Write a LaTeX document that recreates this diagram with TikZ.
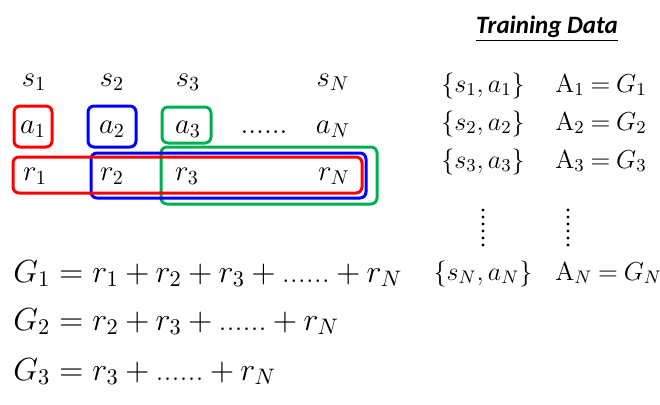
\RequirePackage{fix-cm}
\documentclass[tikz,border=0pt]{standalone}
\usepackage{amsmath}
\usepackage{fontspec}
\newfontfamily\carlito{Carlito}
\usetikzlibrary{positioning}

\definecolor{boxred}{RGB}{255,0,0}
\definecolor{boxblue}{RGB}{0,0,255}
\definecolor{boxgreen}{RGB}{0,176,80}

\tikzset{
  sym/.style={anchor=base, inner sep=0pt, font=\fontsize{14.4}{17}\selectfont},
  eqn/.style={anchor=base west, inner sep=0pt, font=\fontsize{16}{20}\selectfont},
  pair/.style={anchor=base, inner sep=0pt, font=\fontsize{13}{16}\selectfont},
  frame/.style={line width=1.5pt, rounded corners=3pt},
}

\begin{document}
\begin{tikzpicture}[x=0.5pt, y=-0.5pt]
  \useasboundingbox (0,0) rectangle (660,404);

  % states, actions, rewards
  \node[sym] (s1) at (34,86) {$s_1$};
  \node[sym] (s2) at (112,86) {$s_2$};
  \node[sym] (s3) at (188,86) {$s_3$};
  \node[sym] (sN) at (333,86) {$s_N$};

  \node[sym] (a1) at (33,133) {$a_1$};
  \node[sym] (a2) at (112,133) {$a_2$};
  \node[sym] (a3) at (188,133) {$a_3$};
  \node[sym] (adots) at (264,133) {......};
  \node[sym] (aN) at (333,133) {$a_N$};

  \node[sym] (r1) at (35,180) {$r_1$};
  \node[sym] (r2) at (112,180) {$r_2$};
  \node[sym] (r3) at (187,180) {$r_3$};
  \node[sym] (rN) at (334,180) {$r_N$};

  % boxes
  \draw[frame, boxred] (14,106) rectangle (52,147);
  \draw[frame, boxblue] (88,106) rectangle (136,147);
  \draw[frame, boxgreen] (162,107) rectangle (211,143);
  \draw[frame, boxgreen] (161,147) rectangle (377,204);
  \draw[frame, boxblue] (91,153) rectangle (366,198);
  \draw[frame, boxred] (13,157) rectangle (362,193);

  % returns
  \node[eqn] (g1) at (13,282) {$\medmuskip=3.5mu G_1 = r_1 + r_2 + r_3 + \text{......} + r_N$};
  \node[eqn] (g2) at (13,330) {$\medmuskip=3.5mu G_2 = r_2 + r_3 + \text{......} + r_N$};
  \node[eqn] (g3) at (13,380) {$\medmuskip=3.5mu G_3 = r_3 + \text{......} + r_N$};

  % training data
  \node[anchor=base, inner sep=0pt, font=\carlito\bfseries\itshape\fontsize{12.5}{15}\selectfont] (title) at (547,33) {\underline{Training Data}};

  \node[pair] (p1) at (483,92) {$\{s_1, a_1\}$};
  \node[pair] (p2) at (483,130) {$\{s_2, a_2\}$};
  \node[pair] (p3) at (483,168) {$\{s_3, a_3\}$};
  \node[pair] (pN) at (483,280) {$\{s_N, a_N\}$};

  \node[pair, anchor=base west] (A1) at (555,92) {$\thickmuskip=4mu \mathrm{A}_1 = G_1$};
  \node[pair, anchor=base west] (A2) at (555,130) {$\thickmuskip=4mu \mathrm{A}_2 = G_2$};
  \node[pair, anchor=base west] (A3) at (555,168) {$\thickmuskip=4mu \mathrm{A}_3 = G_3$};
  \node[pair, anchor=base west] (AN) at (555,280) {$\thickmuskip=4mu \mathrm{A}_N = G_N$};

  \foreach \y in {210,217,...,245} {
    \fill (483,\y) circle (1.6);
    \fill (568,\y) circle (1.6);
  }
\end{tikzpicture}
\end{document}
